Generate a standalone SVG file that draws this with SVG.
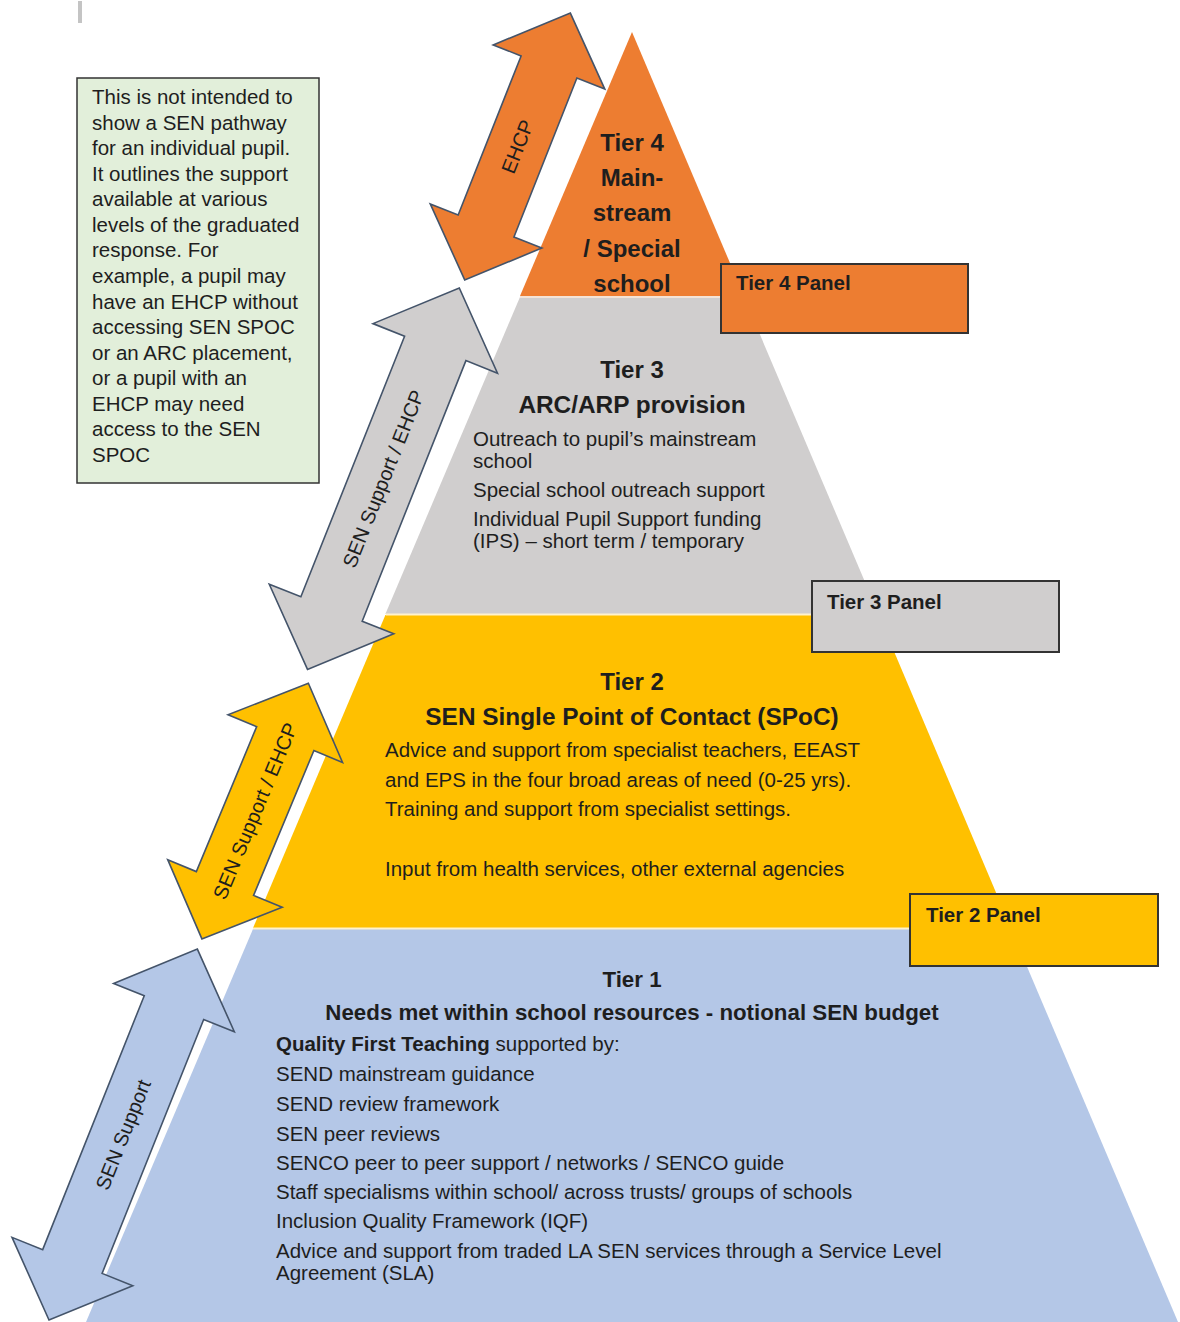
<svg xmlns="http://www.w3.org/2000/svg" width="1180" height="1322" viewBox="0 0 1180 1322">
<style>
text{font-family:"Liberation Sans",Arial,sans-serif;fill:#1e1e1e}
.h{font-weight:bold;font-size:24px;text-anchor:middle}
.h2{font-weight:bold;font-size:24.4px;text-anchor:middle}
.h1{font-weight:bold;font-size:22.3px;text-anchor:middle}
.b{font-size:20.5px}
.p{font-weight:bold;font-size:20.5px}
.at{font-size:20px;text-anchor:middle;dominant-baseline:central}
.arrow{stroke:#44546A;stroke-width:1.6;stroke-linejoin:miter}
.panel{stroke:#333;stroke-width:2}
.sep{stroke:#FFF2CC;stroke-width:2}
</style>
<rect width="1180" height="1322" fill="#fff"/>
<rect x="78" y="1" width="4" height="22" fill="#c4c4c4"/>

<g id="tier1">
<polygon points="253,929 1011,929 1178,1322 86,1322" fill="#B4C7E7"/>
<text class="h1" x="632" y="987">Tier 1</text>
<text class="h1" x="632" y="1020">Needs met within school resources - notional SEN budget</text>
<text class="b" x="276" y="1051"><tspan font-weight="bold">Quality First Teaching</tspan> supported by:</text>
<text class="b" x="276" y="1081">SEND mainstream guidance</text>
<text class="b" x="276" y="1111">SEND review framework</text>
<text class="b" x="276" y="1141">SEN peer reviews</text>
<text class="b" x="276" y="1170">SENCO peer to peer support / networks / SENCO guide</text>
<text class="b" x="276" y="1199">Staff specialisms within school/ across trusts/ groups of schools</text>
<text class="b" x="276" y="1228">Inclusion Quality Framework (IQF)</text>
<text class="b" x="276" y="1258">Advice and support from traded LA SEN services through a Service Level</text>
<text class="b" x="276" y="1280">Agreement (SLA)</text>
</g>

<g id="tier2">
<polygon points="385.4,615 878.6,615 1011,928 253,928" fill="#FFC000"/>
<line class="sep" x1="253" y1="928.5" x2="1011" y2="928.5" stroke="#E8EEF8"/>
<text class="h" x="632" y="690">Tier 2</text>
<text class="h2" x="632" y="725">SEN Single Point of Contact (SPoC)</text>
<text class="b" x="385" y="757">Advice and support from specialist teachers, EEAST</text>
<text class="b" x="385" y="787">and EPS in the four broad areas of need (0-25 yrs).</text>
<text class="b" x="385" y="816">Training and support from specialist settings.</text>
<text class="b" x="385" y="876">Input from health services, other external agencies</text>
</g>

<g id="tier3">
<polygon points="520,297 744,297 878.6,614 385.4,614" fill="#D0CECE"/>
<line class="sep" x1="386" y1="614.5" x2="878" y2="614.5"/>
<text class="h" x="632" y="378">Tier 3</text>
<text class="h2" x="632" y="413">ARC/ARP provision</text>
<text class="b" x="473" y="446">Outreach to pupil’s mainstream</text>
<text class="b" x="473" y="468">school</text>
<text class="b" x="473" y="497">Special school outreach support</text>
<text class="b" x="473" y="526">Individual Pupil Support funding</text>
<text class="b" x="473" y="548">(IPS) – short term / temporary</text>
</g>

<g id="tier4">
<polygon points="632,32 744,296 520,296" fill="#ED7D31"/>
<line x1="520" y1="297" x2="744" y2="297" stroke="#F4E3D6" stroke-width="2"/>
<text class="h" x="632" y="151">Tier 4</text>
<text class="h" x="632" y="186">Main-</text>
<text class="h" x="632" y="221">stream</text>
<text class="h" x="632" y="257">/ Special</text>
<text class="h" x="632" y="292">school</text>
</g>

<g id="note">
<rect x="77" y="78" width="242" height="405" fill="#E2EFDA" stroke="#333" stroke-width="1.5"/>
<text class="b" x="92" y="104">This is not intended to</text>
<text class="b" x="92" y="129.6">show a SEN pathway</text>
<text class="b" x="92" y="155.1">for an individual pupil.</text>
<text class="b" x="92" y="180.7">It outlines the support</text>
<text class="b" x="92" y="206.3">available at various</text>
<text class="b" x="92" y="231.9">levels of the graduated</text>
<text class="b" x="92" y="257.4">response. For</text>
<text class="b" x="92" y="283">example, a pupil may</text>
<text class="b" x="92" y="308.6">have an EHCP without</text>
<text class="b" x="92" y="334.1">accessing SEN SPOC</text>
<text class="b" x="92" y="359.7">or an ARC placement,</text>
<text class="b" x="92" y="385.3">or a pupil with an</text>
<text class="b" x="92" y="410.9">EHCP may need</text>
<text class="b" x="92" y="436.4">access to the SEN</text>
<text class="b" x="92" y="462">SPOC</text>
</g>

<g id="panel4">
<rect class="panel" x="721" y="264" width="247" height="69" fill="#ED7D31"/>
<text class="p" x="736" y="290">Tier 4 Panel</text>
</g>
<g id="panel3">
<rect class="panel" x="812" y="581" width="247" height="71" fill="#D0CECE"/>
<text class="p" x="827" y="609">Tier 3 Panel</text>
</g>
<g id="panel2">
<rect class="panel" x="910" y="894" width="248" height="72" fill="#FFC000"/>
<text class="p" x="926" y="922">Tier 2 Panel</text>
</g>

<g id="connectors">
<g id="arrow-ehcp" transform="translate(464.7,279.9) rotate(-68.4)">
<polygon class="arrow" fill="#ED7D31" points="0,0 58,-60 58,-30 229,-30 229,-60 287,0 229,60 229,30 58,30 58,60"/>
<text class="at" x="143.5" y="0">EHCP</text>
</g>
<g id="arrow-tier3" transform="translate(307.5,669.4) rotate(-68.3)">
<polygon class="arrow" fill="#D0CECE" points="0,0 65,-67 65,-33 345.5,-33 345.5,-67 410.5,0 345.5,67 345.5,33 65,33 65,67"/>
<text class="at" x="205.2" y="0">SEN Support / EHCP</text>
</g>
<g id="arrow-tier2" transform="translate(201.9,938.9) rotate(-67.4)">
<polygon class="arrow" fill="#FFC000" points="0,0 60,-62 60,-31 217,-31 217,-62 277,0 217,62 217,31 60,31 60,62"/>
<text class="at" x="138.5" y="0">SEN Support / EHCP</text>
</g>
<g id="arrow-tier1" transform="translate(49,1320) rotate(-68.2)">
<polygon class="arrow" fill="#B4C7E7" points="0,0 63,-65 63,-32 336.5,-32 336.5,-65 399.5,0 336.5,65 336.5,32 63,32 63,65"/>
<text class="at" x="199.7" y="0">SEN Support</text>
</g>
</g>
</svg>
